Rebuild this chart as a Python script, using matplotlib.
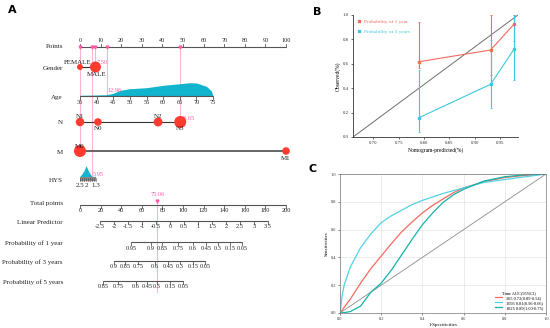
import matplotlib
matplotlib.use('Agg')
import matplotlib.pyplot as plt
from matplotlib.lines import Line2D
import numpy as np

plt.rcParams['font.family'] = ['Liberation Serif', 'DejaVu Serif']

# ---------------- nomogram data (A) ----------------
points_ticks = list(range(0, 101, 10))

gender_levels = ['FEMALE', 'MALE']
gender_points = [0, 7.5]
gender_freq = [0.3, 1.0]

age_ticks = list(range(35, 76, 5))
age_max_points = 64.6
age_grid = [35, 40, 43, 45, 47, 50, 55, 60, 65, 68, 70, 73, 74.5, 75]
age_density = [0.7, 1.0, 1.3, 2.7, 5.7, 7.3, 8.3, 10.7, 12.3, 13.3, 13.0, 9.7, 5.0, 0]

n_levels = ['N1', 'N0', 'N2', 'N3']
n_points = [0, 8.7, 37.9, 48.65]
n_freq = [0.5, 0.4, 0.55, 1.0]

m_levels = ['M0', 'M1']
m_points = [0, 100]
m_freq = [1.0, 0.4]

hys_labels = ['2.5', '2', '1.3']
hys_points = [0, 2.9, 7.8]
hys_grid = [0, 2.0, 2.9, 4.2, 5.8]
hys_density = [0, 6.0, 11.0, 5.0, 0]

total_ticks = list(range(0, 201, 20))
lp_ticks = [-2.5, -2, -1.5, -1, -0.5, 0, 0.5, 1, 1.5, 2, 2.5, 3, 3.5]
lp_total_range = [19.4, 182.5]

p1_labels = ['0.95', '0.9', '0.85', '0.75', '0.6', '0.45', '0.3', '0.15', '0.05']
p1_total = [49.5, 68.9, 79.6, 95.1, 109.7, 122.3, 134.0, 145.6, 157.3]
p3_labels = ['0.9', '0.85', '0.75', '0.6', '0.45', '0.3', '0.15', '0.05']
p3_total = [33.0, 43.7, 56.3, 72.8, 85.4, 97.1, 109.7, 121.4]
p5_labels = ['0.85', '0.75', '0.6', '0.45', '0.3', '0.15', '0.05']
p5_total = [22.3, 36.9, 54.4, 65.0, 74.8, 87.4, 100.0]

# selected patient (points for each variable)
patient_points = {'Gender': 7.50, 'Age': 12.96, 'N': 48.65, 'M': 0.00, 'HYS': 5.95}
patient_total = 75.06

# ---------------- calibration data (B) ----------------
cal_pred = [0.79, 0.931, 0.977]
cal_1y = [0.617, 0.713, 0.924]
cal_1y_lo = [0.563, 0.51, 0.79]
cal_1y_hi = [0.945, 1.0, 1.0]
cal_3y = [0.158, 0.432, 0.719]
cal_3y_lo = [0.043, 0.235, 0.467]
cal_3y_hi = [0.55, 0.795, 1.0]
cal_xlim = [0.66, 0.985]

# ---------------- ROC data (C) ----------------
fpr = [0, 0.01, 0.02, 0.05, 0.1, 0.15, 0.2, 0.25, 0.3, 0.35, 0.4, 0.45, 0.5, 0.55,
       0.6, 0.7, 0.8, 0.9, 1.0]
tpr_365 = [0, 0.02, 0.04, 0.1, 0.215, 0.32, 0.41, 0.50, 0.585, 0.655, 0.72, 0.775,
           0.82, 0.865, 0.9, 0.945, 0.975, 0.99, 1.0]
tpr_1095 = [0, 0.12, 0.2, 0.33, 0.47, 0.57, 0.65, 0.70, 0.74, 0.78, 0.81, 0.835,
            0.86, 0.88, 0.9, 0.94, 0.96, 0.98, 1.0]
tpr_1825 = [0, 0.001, 0.003, 0.01, 0.05, 0.15, 0.215, 0.31, 0.42, 0.53, 0.635, 0.72,
            0.795, 0.85, 0.89, 0.95, 0.98, 0.995, 1.0]
roc_labels = ['365 0.72(0.89-0.54)', '1095 0.81(0.96-0.66)', '1825 0.89(1.00-0.75)']

RED = '#ff3a2e'
CYAN = '#10b4cc'
PINK_LINE = '#ffb3cc'
PINK_TXT = '#ff5aa5'
AX = '#555555'

fig = plt.figure(figsize=(5.5, 3.28), dpi=100)

# ================= Panel A =================
PX = 2.06  # pixels per point
ax = fig.add_axes([0, 0, 300 / 550, 1])
ax.set_xlim(-80 / PX, (300 - 80) / PX)
ax.set_ylim(328, 0)
ax.axis('off')

rows = dict(points=47, gender=67, age=96, N=122, M=151, HYS=179,
            total=205, lp=221, p1=242, p3=261, p5=281)
fs_lab = 5
fs_tick = 4.5
tl = 3


def row_label(name, y):
    ax.text(-8.3, y, name, ha='right', va='center', fontsize=fs_lab, color='#222222')


def hscale(y, pos, labels, up=False, lw=0.8):
    ax.plot([pos[0], pos[-1]], [y, y], color=AX, lw=lw, solid_capstyle='butt', zorder=2)
    for p, l in zip(pos, labels):
        if up:
            ax.plot([p, p], [y, y - tl], color=AX, lw=0.6, zorder=2)
            ax.text(p, y - tl - 1, l, ha='center', va='bottom', fontsize=fs_tick, color='#222222')
        else:
            ax.plot([p, p], [y, y + tl], color=AX, lw=0.6, zorder=2)
            ax.text(p, y + tl + 0.5, l, ha='center', va='top', fontsize=fs_tick, color='#222222')


def msize(f, rmax=6.0):
    r = rmax * np.sqrt(f)
    return (1.44 * r) ** 2

# Points
row_label('Points', rows['points'] - 1)
hscale(rows['points'], points_ticks, [str(t) for t in points_ticks], up=True)

# patient pink lines to the Points axis
pl_rows = {'Gender': rows['gender'], 'Age': rows['age'], 'N': rows['N'],
           'M': rows['M'], 'HYS': rows['HYS']}
for k, v in patient_points.items():
    ax.plot([v, v], [rows['points'], pl_rows[k]], color=PINK_LINE, lw=0.8, zorder=1)
    ax.plot(v, rows['points'], marker='v', ms=2, color=PINK_TXT, zorder=3)

# Gender
row_label('Gender', rows['gender'] + 1)
ax.plot(gender_points, [rows['gender']] * 2, color='#333333', lw=0.8, zorder=2)
ax.scatter(gender_points, [rows['gender']] * 2, s=[msize(f, 5.5) for f in gender_freq],
           color=RED, zorder=4, linewidths=0)
ax.text(gender_points[0] - 1, rows['gender'] - 5, gender_levels[0], ha='center', va='center',
        fontsize=fs_tick + 0.5, color='#222222', zorder=5)
ax.text(gender_points[1] + 0.5, rows['gender'] + 8, gender_levels[1], ha='center', va='center',
        fontsize=fs_tick + 0.5, color='#222222', zorder=5)
ax.text(patient_points['Gender'] + 0.5, rows['gender'] - 4, '%.2f' % patient_points['Gender'],
        fontsize=fs_tick, color=PINK_TXT, ha='left', va='center', zorder=3)

# Age
row_label('Age', rows['age'] + 1)
age_pts = [(a - 35) / 40 * age_max_points for a in age_grid]
ax.fill_between(age_pts, rows['age'], [rows['age'] - d for d in age_density],
                color=CYAN, lw=0, zorder=1)
hscale(rows['age'], [(a - 35) / 40 * age_max_points for a in age_ticks],
       [str(a) for a in age_ticks])
ax.text(patient_points['Age'] + 0.3, rows['age'] - 5, '%.2f' % patient_points['Age'],
        fontsize=fs_tick, color=PINK_TXT, ha='left', va='center', zorder=3)

# N
row_label('N', rows['N'] + 1)
ax.plot([min(n_points), max(n_points)], [rows['N']] * 2, color='#333333', lw=0.8, zorder=2)
ax.text(patient_points['N'] + 0.3, rows['N'] - 4, '%.2f' % patient_points['N'],
        fontsize=fs_tick, color=PINK_TXT, ha='left', va='center', zorder=3)
ax.scatter(n_points, [rows['N']] * 4, s=[msize(f, 6) for f in n_freq],
           color=RED, zorder=4, linewidths=0)
for i, (lv, p) in enumerate(zip(n_levels, n_points)):
    dy = -5 if i in (0, 2) else 7
    ax.text(p, rows['N'] + dy, lv, ha='center', va='center', fontsize=fs_tick + 0.5,
            color='#222222', zorder=5)

# M
row_label('M', rows['M'] + 1)
ax.plot(m_points, [rows['M']] * 2, color='#666666', lw=1.4, zorder=2)
ax.scatter(m_points, [rows['M']] * 2, s=[msize(f, 6) for f in m_freq],
           color=RED, zorder=4, linewidths=0)
ax.text(m_points[0], rows['M'] - 5, m_levels[0], ha='center', va='center',
        fontsize=fs_tick + 0.5, color='#222222', zorder=5)
ax.text(m_points[1], rows['M'] + 7, m_levels[1], ha='center', va='center',
        fontsize=fs_tick + 0.5, color='#222222', zorder=5)

# HYS
row_label('HYS', rows['HYS'] + 1)
ax.fill_between(hys_grid, rows['HYS'] - 2.5, [rows['HYS'] - 2.5 - d for d in hys_density],
                color=CYAN, lw=0, zorder=3)
ax.plot([hys_points[0], hys_points[-1]], [rows['HYS']] * 2, color='#8a8a8a', lw=3.2,
        solid_capstyle='butt', zorder=2)
for p in np.linspace(hys_points[0], hys_points[-1], 9):
    ax.plot([p, p], [rows['HYS'] - 1.5, rows['HYS'] + 2], color='#444444', lw=0.4, zorder=2)
for p, l in zip(hys_points, hys_labels):
    ax.text(p, rows['HYS'] + 4, l, ha='center', va='top', fontsize=fs_tick + 0.5, color='#222222')
ax.text(patient_points['HYS'] + 0.3, rows['HYS'] - 5, '%.2f' % patient_points['HYS'],
        fontsize=fs_tick, color=PINK_TXT, ha='left', va='center', zorder=3)

# Total points
row_label('Total points', rows['total'] - 2)
tot = lambda t: t / 2.0
hscale(rows['total'], [tot(t) for t in total_ticks], [str(t) for t in total_ticks])
ax.plot([tot(patient_total)] * 2, [rows['total'] - 5, 292], color=PINK_LINE, lw=0.8, zorder=1)
ax.plot(tot(patient_total), rows['total'] - 4, marker='v', ms=2, color=PINK_TXT, zorder=3)
ax.text(tot(patient_total), rows['total'] - 10, '%.2f' % patient_total, ha='center',
        va='center', fontsize=fs_tick, color=PINK_TXT)

# Linear predictor
row_label('Linear Predictor', rows['lp'] + 1)
lp_pos = [tot(lp_total_range[0] + (v - lp_ticks[0]) / (lp_ticks[-1] - lp_ticks[0])
              * (lp_total_range[1] - lp_total_range[0])) for v in lp_ticks]
hscale(rows['lp'], lp_pos, ['%g' % v for v in lp_ticks])

row_label('Probability of 1 year', rows['p1'] + 1)
hscale(rows['p1'], [tot(t) for t in p1_total], p1_labels)
row_label('Probability of 3 years', rows['p3'] + 1)
hscale(rows['p3'], [tot(t) for t in p3_total], p3_labels)
row_label('Probability of 5 years', rows['p5'] + 1)
hscale(rows['p5'], [tot(t) for t in p5_total], p5_labels)

# ================= Panel B =================
RED_B = '#f26b5f'
CYAN_B = '#3cc8dc'
axb = fig.add_axes([353 / 550, 1 - 137 / 328, (518 - 353) / 550, (137 - 15) / 328])
axb.plot(cal_xlim, [0, 1], color='#6e6e6e', lw=0.7, zorder=1)
for y, lo, hi, c in [(cal_1y, cal_1y_lo, cal_1y_hi, RED_B), (cal_3y, cal_3y_lo, cal_3y_hi, CYAN_B)]:
    axb.vlines(cal_pred, lo, hi, colors=c, lw=0.8, zorder=2)
    axb.plot(cal_pred + cal_pred, list(lo) + list(hi), ls='', marker='_', ms=2,
             mew=0.6, color=c, zorder=2)
    axb.plot(cal_pred, y, color=c, lw=0.8, marker='s', ms=1.8, zorder=3)
axb.set_xlim(cal_xlim)
axb.set_ylim(0, 1)
axb.set_xticks([0.70, 0.75, 0.80, 0.85, 0.90, 0.95])
axb.set_yticks([0.0, 0.2, 0.4, 0.6, 0.8, 1.0])
axb.xaxis.set_major_formatter(matplotlib.ticker.FormatStrFormatter('%.2f'))
axb.yaxis.set_major_formatter(matplotlib.ticker.FormatStrFormatter('%.1f'))
axb.tick_params(labelsize=3.5, length=1.5, width=0.5, pad=1.5, colors='#333333')
for s in ['top', 'right']:
    axb.spines[s].set_visible(False)
for s in ['left', 'bottom']:
    axb.spines[s].set_linewidth(0.6)
    axb.spines[s].set_color('#333333')
axb.set_xlabel('Nomogram-predicted(%)', fontsize=4, labelpad=1.5)
axb.set_ylabel('Observed(%)', fontsize=4, labelpad=1.5)
leg_b = axb.legend(handles=[Line2D([], [], ls='', marker='s', ms=1.8, color=RED_B),
                            Line2D([], [], ls='', marker='s', ms=1.8, color=CYAN_B)],
                   labels=['Probability of 1 year', 'Probability of 3 years'],
                   loc='upper left', frameon=False, fontsize=3.8, labelcolor='linecolor',
                   handlelength=0.6, handletextpad=0.6, borderaxespad=0.4, labelspacing=1.0)

# ================= Panel C =================
axc = fig.add_axes([340 / 550, 1 - 313 / 328, (546 - 340) / 550, (313 - 174) / 328])
axc.grid(True, color='#e4e4e4', lw=0.5)
axc.set_axisbelow(True)
axc.plot([0, 1], [0, 1], color='#8c8c8c', lw=0.6)
roc_colors = ['#f46a5e', '#52d2e6', '#13b2a8']
for tp, c, lab in zip([tpr_365, tpr_1095, tpr_1825], roc_colors, roc_labels):
    axc.plot(fpr, tp, color=c, lw=0.9, label=lab)
axc.set_xlim(0, 1)
axc.set_ylim(0, 1)
axc.set_xticks(np.arange(0, 1.01, 0.2))
axc.set_yticks(np.arange(0, 1.01, 0.2))
axc.xaxis.set_major_formatter(matplotlib.ticker.FormatStrFormatter('%.1f'))
axc.yaxis.set_major_formatter(matplotlib.ticker.FormatStrFormatter('%.1f'))
axc.tick_params(labelsize=3.2, length=1.2, width=0.4, pad=1.5, colors='#333333')
for s in axc.spines.values():
    s.set_linewidth(0.5)
    s.set_color('#777777')
axc.set_xlabel('1-Specificities', fontsize=3.6, labelpad=1.5)
axc.set_ylabel('Sensitivities', fontsize=3.6, labelpad=1.5)
axc.legend(loc='lower right', frameon=False, fontsize=3.2, title='Time AUC(95%CI)',
           title_fontsize=3.2, handlelength=1.6, borderaxespad=0.3, labelspacing=0.2)

# panel letters
for lt, xp, yp in [('A', 12, 10), ('B', 317, 12), ('C', 313, 169)]:
    fig.text(xp / 550, 1 - yp / 328, lt, fontsize=8, fontweight='bold',
             family='DejaVu Sans', ha='center', va='center')

fig.savefig('out.png', dpi=100)
